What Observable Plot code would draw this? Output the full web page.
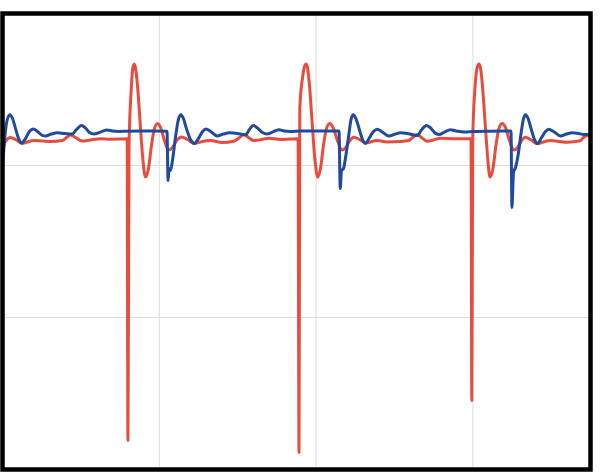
<!DOCTYPE html>
<html><head><meta charset="utf-8">
<script src="https://cdn.jsdelivr.net/npm/d3@7"></script>
<script src="https://cdn.jsdelivr.net/npm/@observablehq/plot@0.6"></script>
<style>body{margin:0;background:#fff}</style>
</head><body><div id="chart"></div>
<script>
const redX = [0,0.019,0.051,0.083,0.126,0.159,0.200,0.255,0.306,0.381,0.408,0.434,0.466,0.508,0.561,0.625,0.689,0.753,0.795,0.800,0.807,0.820,0.829,0.839,0.848,0.861,0.877,0.893,0.912,0.931,0.950,0.969,0.989,1.008,1.033,1.059,1.084,1.110,1.142,1.180,1.224,1.263,1.327,1.401,1.475,1.512,1.539,1.569,1.603,1.652,1.698,1.773,1.837,1.885,1.891,1.896,1.913,1.926,1.936,1.945,1.958,1.974,1.990,2.011,2.028,2.047,2.066,2.087,2.108,2.136,2.166,2.187,2.213,2.240,2.277,2.315,2.390,2.453,2.538,2.589,2.615,2.645,2.672,2.709,2.749,2.793,2.878,2.988,2.993,2.999,3.013,3.026,3.038,3.048,3.061,3.077,3.093,3.109,3.128,3.147,3.166,3.186,3.208,3.233,3.261,3.285,3.310,3.335,3.367,3.410,3.450,3.495,3.546,3.601,3.654,3.686,3.712,3.750];
const redY = [0.099,0.158,0.184,0.171,0.145,0.155,0.164,0.161,0.158,0.164,0.184,0.201,0.184,0.161,0.168,0.176,0.173,0.174,0.176,-1.809,0.132,0.480,0.625,0.668,0.645,0.526,0.296,0.066,-0.076,-0.020,0.132,0.243,0.276,0.250,0.164,0.102,0.118,0.164,0.188,0.171,0.145,0.155,0.164,0.151,0.160,0.184,0.204,0.184,0.164,0.171,0.180,0.171,0.174,0.176,-1.888,0.375,0.572,0.651,0.668,0.645,0.526,0.296,0.066,-0.076,-0.020,0.132,0.243,0.276,0.250,0.164,0.102,0.115,0.161,0.186,0.171,0.149,0.164,0.155,0.158,0.164,0.184,0.204,0.184,0.160,0.168,0.180,0.176,0.176,-1.546,0.178,0.507,0.638,0.668,0.645,0.526,0.296,0.066,-0.076,-0.020,0.132,0.243,0.276,0.250,0.164,0.102,0.118,0.164,0.186,0.171,0.143,0.155,0.164,0.158,0.153,0.158,0.164,0.191,0.197];
const blueX = [0,0.013,0.029,0.047,0.064,0.083,0.102,0.121,0.147,0.172,0.196,0.223,0.249,0.274,0.312,0.349,0.395,0.445,0.472,0.504,0.529,0.555,0.582,0.625,0.668,0.702,0.740,0.795,0.880,0.976,1.049,1.056,1.062,1.071,1.084,1.103,1.122,1.138,1.154,1.173,1.199,1.224,1.250,1.276,1.298,1.327,1.369,1.409,1.448,1.499,1.550,1.575,1.599,1.626,1.658,1.688,1.722,1.762,1.798,1.837,1.901,1.996,2.146,2.154,2.162,2.175,2.187,2.207,2.223,2.237,2.254,2.274,2.296,2.315,2.341,2.366,2.390,2.417,2.464,2.506,2.538,2.589,2.645,2.672,2.704,2.730,2.755,2.783,2.819,2.857,2.895,2.942,3.005,3.112,3.243,3.249,3.259,3.272,3.288,3.307,3.323,3.336,3.352,3.371,3.393,3.412,3.438,3.463,3.484,3.514,3.559,3.597,3.633,3.673,3.707,3.750];
const blueY = [-0.020,0.164,0.296,0.334,0.309,0.243,0.178,0.148,0.178,0.224,0.240,0.224,0.201,0.194,0.207,0.215,0.211,0.207,0.237,0.263,0.247,0.217,0.207,0.220,0.234,0.227,0.224,0.226,0.227,0.227,0.226,-0.099,-0.020,-0.033,0.033,0.184,0.303,0.334,0.309,0.243,0.171,0.145,0.178,0.224,0.240,0.224,0.194,0.207,0.215,0.211,0.201,0.237,0.263,0.247,0.217,0.207,0.220,0.235,0.227,0.224,0.227,0.227,0.227,-0.151,-0.033,-0.020,0.046,0.191,0.303,0.334,0.309,0.243,0.171,0.145,0.184,0.224,0.239,0.224,0.194,0.207,0.215,0.209,0.197,0.234,0.263,0.247,0.217,0.204,0.220,0.235,0.227,0.220,0.224,0.226,0.227,-0.276,-0.046,-0.013,0.066,0.211,0.309,0.334,0.309,0.243,0.171,0.145,0.184,0.224,0.239,0.224,0.194,0.207,0.215,0.211,0.204,0.204];
const xGridTicks = [1, 2, 3];
const yGridTicks = [0, -1];

const red = redX.map((x, i) => ({x, y: redY[i]}));
const blue = blueX.map((x, i) => ({x, y: blueY[i]}));

const chart = Plot.plot({
  width: 602,
  height: 474,
  marginLeft: 2,
  marginRight: 12,
  marginTop: 13,
  marginBottom: 5,
  x: {domain: [0, 3.75], axis: null},
  y: {domain: [-2, 1], axis: null},
  marks: [
    Plot.gridX(xGridTicks, {stroke: "#dcdcdc", strokeOpacity: 1, strokeWidth: 1}),
    Plot.gridY(yGridTicks, {stroke: "#dcdcdc", strokeOpacity: 1, strokeWidth: 1}),
    Plot.line(red, {x: "x", y: "y", stroke: "#e74c3c", strokeWidth: 3, curve: "monotone-x"}),
    Plot.line(blue, {x: "x", y: "y", stroke: "#1f4a9e", strokeWidth: 3, curve: "monotone-x"}),
    Plot.frame({stroke: "#000", strokeWidth: 4.5})
  ]
});
document.getElementById("chart").appendChild(chart);
</script>
</body></html>
